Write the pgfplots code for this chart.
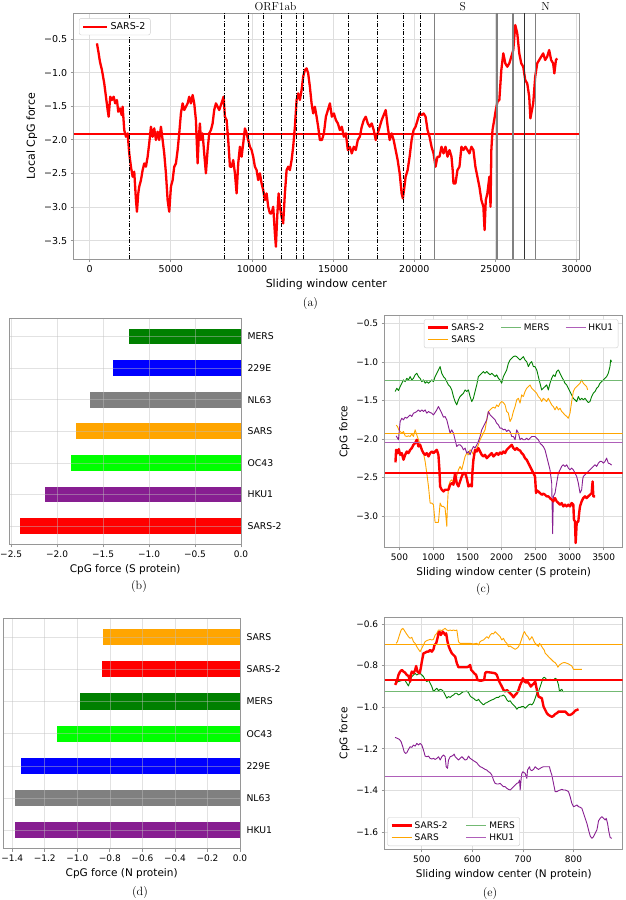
\documentclass[border=0pt]{standalone}
\usepackage{fontspec}
\usepackage{pgfplots}
\pgfplotsset{compat=1.18}
\newfontfamily\dejavu{DejaVu Sans}

\definecolor{mgreen}{RGB}{0,128,0}
\definecolor{mgreenl}{RGB}{115,185,115}
\definecolor{morange}{RGB}{255,165,0}
\definecolor{mpurple}{RGB}{135,30,145}
\definecolor{mpurplel}{RGB}{175,95,185}
\definecolor{mlime}{RGB}{0,255,0}
\definecolor{mgray}{RGB}{128,128,128}
\definecolor{framec}{RGB}{150,150,150}
\definecolor{gridc}{RGB}{222,222,222}

\pgfplotsset{
  mpl/.style={
    scale only axis, anchor=north west,
    axis line style={draw=framec, line width=0.8pt},
    grid=major, grid style={draw=gridc, line width=0.8pt},
    tick align=outside, tick pos=left, major tick length=3pt,
    tick style={draw=framec, line width=0.8pt},
    scaled ticks=false,
    tick label style={font=\dejavu\fontsize{9}{10}\selectfont},
    label style={font=\dejavu\fontsize{10.5}{12}\selectfont},
    legend cell align=left,
    legend style={font=\dejavu\fontsize{9}{10.5}\selectfont, draw=black!20,
      rounded corners=2pt, fill=white},
    legend image code/.code={\draw[##1] (0pt,0pt) -- (20pt,0pt);},
  },
  barax/.style={
    xbar, bar width=0.5, bar shift=0pt, axis on top,
    grid style={draw=black!25, line width=0.6pt, opacity=0.45},
    ytick={0,1,2,3,4,5,6}, yticklabel pos=right, ytick style={draw=none},
    ymin=-0.575, ymax=6.575,
    yticklabel style={font=\dejavu\fontsize{9.3}{10}\selectfont},
  },
  curve/.style={line join=round},
}

\begin{document}
\begin{tikzpicture}
\useasboundingbox (0,0) rectangle (625pt,-900pt);

% ---------- (a) whole genome ----------
\begin{axis}[mpl, at={(73.7pt,-13.3pt)}, width=505.3pt, height=245.7pt,
  xmin=-983, xmax=30145, ymin=-3.772, ymax=-0.117,
  xtick={0,5000,10000,15000,20000,25000,30000},
  xticklabels={0,5000,10000,15000,20000,25000,30000},
  ytick={-3.5,-3,-2.5,-2,-1.5,-1,-0.5},
  yticklabels={−3.5,−3.0,−2.5,−2.0,−1.5,−1.0,−0.5},
  tick label style={font=\dejavu\fontsize{9.5}{11}\selectfont},
  label style={font=\dejavu\fontsize{11}{13}\selectfont},
  xlabel={Sliding window center}, ylabel={Local CpG force},
  legend style={at={(0.0105,0.98)}, anchor=north west, font=\dejavu\fontsize{9.5}{11}\selectfont},
  legend image code/.code={\draw[#1] (0pt,0pt) -- (24pt,0pt);},
]
\addplot[forget plot, red, line width=2.3pt] coordinates {(-983,-1.91) (30145,-1.91)};
\addplot[curve, red, line width=2.3pt] coordinates {
(450,-0.564) (554,-0.713) (634,-0.837) (757,-0.961) (899,-1.160) (1004,-1.358) (1108,-1.556)
(1170,-1.655) (1269,-1.358) (1373,-1.407) (1478,-1.358) (1576,-1.457) (1681,-1.407) (1761,-1.581)
(1866,-1.531) (1971,-1.631) (2032,-1.507) (2131,-1.854) (2235,-1.953) (2340,-1.903) (2439,-2.201)
(2543,-2.399) (2648,-2.548) (2747,-2.474) (2852,-2.895) (2913,-3.069) (2993,-2.796) (3054,-2.697)
(3159,-2.598) (3264,-2.449) (3362,-2.350) (3467,-2.399) (3572,-2.250) (3670,-2.052) (3775,-1.804)
(3880,-1.953) (3978,-1.829) (4083,-2.002) (4187,-1.878) (4286,-2.002) (4391,-1.804) (4495,-2.002)
(4594,-2.201) (4699,-2.498) (4803,-2.895) (4902,-3.069) (5006,-2.697) (5111,-2.598) (5210,-2.399)
(5315,-2.350) (5419,-2.151) (5518,-1.903) (5622,-1.606) (5727,-1.457) (5826,-1.556) (5930,-1.507)
(6035,-1.457) (6134,-1.358) (6238,-1.457) (6343,-1.333) (6442,-1.457) (6546,-1.705) (6651,-2.350)
(6713,-2.002) (6792,-1.755) (6854,-2.002) (6958,-1.903) (7057,-2.201) (7162,-2.498) (7266,-2.151)
(7365,-1.903) (7470,-1.854) (7574,-1.755) (7673,-1.556) (7778,-1.457) (7882,-1.507) (7981,-1.556)
(8086,-1.482) (8190,-1.407) (8252,-1.358) (8332,-1.655) (8437,-1.705) (8536,-2.002) (8641,-2.399)
(8745,-2.399) (8844,-2.300) (8949,-2.498) (9053,-2.796) (9152,-2.350) (9257,-2.102) (9361,-2.250)
(9460,-2.052) (9565,-1.829) (9669,-1.903) (9768,-2.002) (9871,-2.102) (9976,-2.151) (10075,-2.250)
(10180,-2.399) (10284,-2.449) (10383,-2.598) (10487,-2.498) (10592,-2.647) (10691,-2.746) (10796,-2.895)
(10900,-2.796) (10999,-2.994) (11104,-3.093) (11208,-3.093) (11307,-2.994) (11411,-3.391) (11473,-3.589)
(11553,-3.143) (11639,-2.796) (11719,-2.994) (11824,-3.143) (11922,-3.242) (12027,-2.796) (12132,-2.449)
(12231,-2.399) (12335,-2.449) (12440,-2.300) (12538,-2.102) (12643,-1.804) (12748,-1.407) (12846,-1.308)
(12951,-1.407) (13055,-1.259) (13154,-1.060) (13258,-0.961) (13363,-0.936) (13462,-1.011) (13566,-1.209)
(13671,-1.457) (13770,-1.606) (13874,-1.507) (13979,-1.655) (14077,-1.804) (14182,-2.002) (14308,-2.002)
(14430,-1.903) (14553,-1.655) (14676,-1.556) (14799,-1.457) (14921,-1.655) (15044,-1.606) (15167,-1.705)
(15290,-1.755) (15413,-1.854) (15535,-1.804) (15658,-1.953) (15781,-1.903) (15904,-2.151) (16027,-2.102)
(16149,-2.201) (16272,-2.102) (16395,-2.151) (16518,-2.002) (16641,-1.953) (16763,-1.804) (16886,-1.705)
(17009,-1.655) (17132,-1.755) (17255,-1.804) (17377,-1.755) (17500,-1.854) (17623,-2.002) (17746,-1.903)
(17869,-1.804) (17991,-1.705) (18114,-1.631) (18237,-1.556) (18360,-1.804) (18483,-2.002) (18605,-1.903)
(18728,-2.002) (18851,-2.151) (18974,-2.300) (19097,-2.498) (19219,-2.796) (19293,-2.870) (19391,-2.697)
(19465,-2.548) (19588,-2.449) (19711,-2.250) (19833,-2.002) (19956,-1.854) (20079,-1.804) (20202,-1.705)
(20325,-1.606) (20447,-1.631) (20570,-1.606) (20693,-1.655) (20816,-1.854) (20939,-1.953) (21061,-2.102)
(21184,-2.201) (21307,-2.399) (21430,-2.250) (21553,-2.250) (21675,-2.102) (21798,-2.201) (21921,-2.102)
(22044,-2.250) (22167,-2.151) (22289,-2.250) (22363,-2.449) (22412,-2.647) (22535,-2.647) (22658,-2.449)
(22781,-2.399) (22903,-2.102) (23026,-2.151) (23149,-2.102) (23272,-2.151) (23395,-2.201) (23517,-2.102)
(23640,-2.151) (23763,-2.399) (23886,-2.548) (24009,-2.697) (24131,-2.895) (24254,-2.994) (24328,-3.341)
(24402,-2.895) (24500,-2.796) (24623,-2.548) (24696,-2.994) (24745,-2.151) (24815,-1.854) (24920,-1.705)
(25018,-1.557) (25123,-1.433) (25237,-1.407) (25360,-0.961) (25482,-0.713) (25605,-0.862) (25728,-0.912)
(25851,-0.862) (25974,-0.763) (26096,-0.664) (26219,-0.292) (26342,-0.416) (26465,-0.713) (26588,-0.862)
(26710,-0.912) (26833,-1.110) (26956,-1.160) (27079,-1.358) (27150,-1.680) (27324,-1.457) (27447,-1.060)
(27570,-0.862) (27693,-0.812) (27816,-0.763) (27938,-0.713) (28061,-0.812) (28184,-0.763) (28307,-0.664)
(28430,-0.812) (28552,-0.862) (28626,-1.011) (28724,-0.812) (28798,-0.788)
};
\addlegendentry{SARS-2}
\pgfplotsinvokeforeach{2445,8276,9778,10683,11804,12740,13159,15961,17734,19335,20357}{
  \addplot[forget plot, black, line width=0.7pt, dash pattern=on 4pt off 1.5pt on 1pt off 1.5pt]
    coordinates {(#1,-3.772) (#1,-0.117)};
}
\pgfplotsinvokeforeach{21262,25062,25130,26084,27482}{
  \addplot[forget plot, mgray, line width=1.2pt] coordinates {(#1,-3.772) (#1,-0.117)};
}
\addplot[forget plot, black!80, line width=0.9pt] coordinates {(26761,-3.772) (26761,-0.117)};
\end{axis}
\node[font=\fontsize{11.5}{13}\selectfont, anchor=base] at (275.5pt,-10.7pt) {ORF1ab};
\node[font=\fontsize{11.5}{13}\selectfont, anchor=base] at (462.7pt,-10.7pt) {S};
\node[font=\fontsize{11.5}{13}\selectfont, anchor=base] at (545.7pt,-10.7pt) {N};
\node[font=\fontsize{12}{14}\selectfont] at (310.5pt,-304pt) {(a)};

% ---------- (b) S protein bars ----------
\begin{axis}[mpl, barax, at={(9.3pt,-318.3pt)}, width=231.7pt, height=226pt,
  xmin=-2.52, xmax=0,
  xtick={-2.5,-2,-1.5,-1,-0.5,0}, xticklabels={−2.5,−2.0,−1.5,−1.0,−0.5,0.0},
  yticklabels={SARS-2,HKU1,OC43,SARS,NL63,229E,MERS},
  xlabel={CpG force (S protein)},
]
\addplot[fill=red, draw=none] coordinates {(-2.402,0)};
\addplot[fill=mpurple, draw=none] coordinates {(-2.130,1)};
\addplot[fill=mlime, draw=none] coordinates {(-1.848,2)};
\addplot[fill=morange, draw=none] coordinates {(-1.790,3)};
\addplot[fill=mgray, draw=none] coordinates {(-1.638,4)};
\addplot[fill=blue, draw=none] coordinates {(-1.391,5)};
\addplot[fill=mgreen, draw=none] coordinates {(-1.214,6)};
\end{axis}
\node[font=\fontsize{12}{14}\selectfont] at (139pt,-586.7pt) {(b)};

% ---------- (c) S protein sliding window ----------
\begin{axis}[mpl, at={(384.7pt,-315.7pt)}, width=238pt, height=231.6pt,
  xmin=283, xmax=3779, ymin=-3.405, ymax=-0.40,
  xtick={500,1000,1500,2000,2500,3000,3500},
  xticklabels={500,1000,1500,2000,2500,3000,3500},
  ytick={-3,-2.5,-2,-1.5,-1,-0.5}, yticklabels={−3.0,−2.5,−2.0,−1.5,−1.0,−0.5},
  xlabel={Sliding window center (S protein)}, ylabel={CpG force},
  legend columns=3,
  legend style={at={(0.9815,0.9845)}, anchor=north east,
    /tikz/every even column/.append style={column sep=14pt}},
]
\addplot[forget plot, curve, mgreen, line width=0.9pt] coordinates {
(436,-1.384) (461,-1.341) (485,-1.371) (510,-1.320) (534,-1.276) (559,-1.233) (583,-1.255) (608,-1.212)
(632,-1.233) (657,-1.190) (681,-1.233) (705,-1.212) (730,-1.168) (754,-1.147) (779,-1.190) (803,-1.212)
(828,-1.255) (852,-1.233) (877,-1.276) (901,-1.255) (926,-1.276) (950,-1.255) (975,-1.233) (999,-1.255)
(1023,-1.190) (1048,-1.147) (1072,-1.104) (1097,-1.060) (1121,-1.147) (1146,-1.190) (1170,-1.212)
(1195,-1.255) (1219,-1.298) (1244,-1.320) (1268,-1.363) (1293,-1.449) (1317,-1.514) (1341,-1.557)
(1366,-1.492) (1390,-1.449) (1415,-1.427) (1439,-1.406) (1464,-1.363) (1488,-1.384) (1513,-1.363)
(1537,-1.449) (1562,-1.514) (1586,-1.471) (1610,-1.384) (1635,-1.298) (1659,-1.190) (1684,-1.168)
(1708,-1.147) (1733,-1.125) (1757,-1.147) (1782,-1.125) (1806,-1.147) (1831,-1.168) (1855,-1.147)
(1880,-1.168) (1904,-1.190) (1928,-1.168) (1953,-1.212) (1977,-1.233) (2002,-1.276) (2026,-1.190)
(2051,-1.147) (2075,-1.104) (2100,-1.017) (2124,-0.974) (2149,-0.953) (2173,-0.931) (2198,-0.922)
(2222,-0.931) (2247,-0.953) (2271,-0.974) (2295,-0.953) (2320,-0.931) (2344,-0.974) (2369,-0.996)
(2393,-1.060) (2418,-1.017) (2442,-0.996) (2467,-1.060) (2491,-1.060) (2516,-1.104) (2540,-1.190)
(2564,-1.276) (2589,-1.363) (2613,-1.341) (2638,-1.320) (2662,-1.298) (2687,-1.363) (2711,-1.276)
(2736,-1.212) (2760,-1.168) (2785,-1.190) (2809,-1.125) (2834,-1.104) (2858,-1.147) (2882,-1.190)
(2907,-1.233) (2931,-1.276) (2956,-1.298) (2980,-1.341) (3005,-1.384) (3029,-1.427) (3054,-1.471)
(3078,-1.492) (3103,-1.514) (3127,-1.449) (3152,-1.492) (3176,-1.471) (3200,-1.492) (3225,-1.471)
(3249,-1.501) (3274,-1.527) (3298,-1.514) (3323,-1.449) (3347,-1.406) (3372,-1.384) (3396,-1.341)
(3421,-1.320) (3445,-1.276) (3469,-1.255) (3494,-1.233) (3518,-1.212) (3543,-1.190) (3567,-1.147)
(3592,-1.060) (3602,-0.974) (3616,-0.996)
};
\addplot[forget plot, curve, morange, line width=0.9pt] coordinates {
(451,-1.820) (471,-1.838) (490,-1.881) (510,-1.902) (534,-1.924) (559,-1.902) (583,-1.959) (608,-1.967)
(632,-1.959) (657,-1.967) (681,-1.933) (705,-1.967) (730,-1.881) (754,-1.946) (779,-2.010) (803,-2.075)
(828,-2.118) (852,-2.183) (877,-2.291) (901,-2.442) (926,-2.615) (950,-2.831) (975,-2.831) (999,-2.852)
(1023,-3.081) (1048,-3.081) (1072,-3.081) (1097,-2.831) (1121,-2.874) (1146,-2.874) (1170,-2.896)
(1195,-3.133) (1204,-2.874) (1219,-2.615) (1244,-2.550) (1268,-2.529) (1293,-2.572) (1317,-2.485)
(1341,-2.485) (1366,-2.399) (1390,-2.356) (1415,-2.399) (1439,-2.313) (1464,-2.226) (1488,-2.183)
(1513,-2.205) (1537,-2.140) (1562,-2.162) (1586,-2.205) (1610,-2.162) (1635,-2.118) (1659,-2.075)
(1684,-2.010) (1708,-1.967) (1733,-1.924) (1757,-1.881) (1782,-1.751) (1806,-1.643) (1831,-1.622)
(1855,-1.600) (1880,-1.587) (1904,-1.600) (1928,-1.557) (1953,-1.579) (1977,-1.535) (2002,-1.514)
(2026,-1.527) (2051,-1.557) (2075,-1.643) (2100,-1.665) (2124,-1.773) (2149,-1.730) (2173,-1.643)
(2198,-1.579) (2222,-1.492) (2247,-1.471) (2271,-1.535) (2295,-1.427) (2320,-1.449) (2344,-1.384)
(2369,-1.341) (2393,-1.320) (2418,-1.298) (2442,-1.341) (2467,-1.363) (2491,-1.384) (2516,-1.406)
(2540,-1.449) (2564,-1.471) (2589,-1.514) (2613,-1.471) (2638,-1.492) (2662,-1.514) (2687,-1.471)
(2711,-1.514) (2736,-1.557) (2760,-1.579) (2785,-1.622) (2809,-1.579) (2834,-1.622) (2858,-1.600)
(2882,-1.643) (2907,-1.665) (2931,-1.687) (2956,-1.708) (2980,-1.730) (3005,-1.665) (3029,-1.514)
(3054,-1.384) (3078,-1.341) (3103,-1.320) (3127,-1.298) (3152,-1.276) (3176,-1.233) (3200,-1.276)
(3225,-1.298) (3249,-1.320) (3264,-1.363)
};
\addplot[forget plot, curve, mpurple, line width=0.9pt] coordinates {
(451,-1.959) (471,-1.989) (485,-2.010) (510,-1.773) (534,-1.730) (559,-1.751) (583,-1.717) (608,-1.730)
(632,-1.708) (657,-1.687) (681,-1.708) (705,-1.665) (730,-1.656) (754,-1.643) (779,-1.622) (803,-1.643)
(828,-1.622) (852,-1.643) (877,-1.622) (901,-1.665) (926,-1.643) (950,-1.656) (975,-1.665) (999,-1.687)
(1023,-1.656) (1048,-1.622) (1072,-1.579) (1097,-1.622) (1121,-1.665) (1146,-1.717) (1170,-1.708)
(1195,-1.751) (1219,-1.838) (1244,-1.924) (1268,-1.881) (1293,-1.924) (1317,-2.010) (1341,-2.097)
(1366,-2.075) (1390,-2.075) (1415,-2.097) (1439,-2.140) (1464,-2.118) (1488,-2.183) (1513,-2.162)
(1537,-2.205) (1562,-2.140) (1586,-2.097) (1610,-2.118) (1635,-2.075) (1659,-2.032) (1684,-1.967)
(1708,-1.881) (1733,-1.838) (1757,-1.795) (1782,-1.751) (1806,-1.643) (1831,-1.687) (1855,-1.708)
(1880,-1.730) (1904,-1.751) (1928,-1.795) (1953,-1.816) (1977,-1.859) (2002,-1.859) (2026,-1.881)
(2051,-1.872) (2075,-1.902) (2100,-1.881) (2124,-1.902) (2149,-1.967) (2173,-1.967) (2198,-2.010)
(2222,-1.881) (2247,-1.924) (2271,-2.010) (2295,-1.989) (2320,-2.010) (2344,-2.010) (2369,-1.989)
(2393,-2.010) (2418,-1.989) (2442,-1.967) (2467,-1.967) (2491,-1.967) (2516,-1.989) (2540,-2.010)
(2564,-2.054) (2589,-2.075) (2613,-2.097) (2638,-2.140) (2662,-2.226) (2687,-2.313) (2711,-2.399)
(2736,-2.572) (2750,-3.228) (2760,-2.744) (2785,-2.701) (2809,-2.572) (2834,-2.442) (2858,-2.399)
(2882,-2.356) (2907,-2.334) (2931,-2.356) (2956,-2.334) (2980,-2.377) (3005,-2.399) (3029,-2.377)
(3054,-2.399) (3078,-2.442) (3103,-2.485) (3127,-2.572) (3152,-2.701) (3176,-2.658) (3191,-2.529)
(3200,-2.485) (3225,-2.464) (3249,-2.442) (3274,-2.421) (3298,-2.399) (3323,-2.377) (3347,-2.356)
(3372,-2.334) (3396,-2.356) (3421,-2.313) (3445,-2.291) (3469,-2.291) (3494,-2.313) (3518,-2.291)
(3543,-2.248) (3567,-2.313) (3592,-2.321) (3616,-2.339)
};
\addplot[forget plot, curve, red, line width=2.4pt] coordinates {
(441,-2.304) (451,-2.140) (471,-2.183) (490,-2.131) (510,-2.205) (534,-2.183) (559,-2.269) (583,-2.205)
(608,-2.162) (632,-2.183) (657,-2.140) (681,-2.118) (705,-2.075) (730,-2.054) (754,-2.010) (779,-2.097)
(803,-2.075) (828,-2.140) (852,-2.183) (877,-2.205) (901,-2.183) (926,-2.226) (950,-2.183) (975,-2.162)
(999,-2.183) (1023,-2.162) (1048,-2.140) (1072,-2.205) (1087,-2.399) (1097,-2.615) (1121,-2.658)
(1146,-2.680) (1170,-2.658) (1195,-2.658) (1219,-2.658) (1244,-2.593) (1268,-2.572) (1293,-2.593)
(1317,-2.442) (1341,-2.572) (1366,-2.615) (1390,-2.550) (1415,-2.485) (1439,-2.442) (1464,-2.442)
(1488,-2.507) (1513,-2.615) (1537,-2.593) (1562,-2.615) (1572,-2.421) (1586,-2.269) (1610,-2.140)
(1635,-2.162) (1659,-2.118) (1684,-2.162) (1708,-2.205) (1733,-2.226) (1757,-2.205) (1782,-2.248)
(1806,-2.226) (1831,-2.205) (1855,-2.183) (1880,-2.226) (1904,-2.205) (1928,-2.183) (1953,-2.205)
(1977,-2.175) (2002,-2.192) (2026,-2.162) (2051,-2.183) (2075,-2.140) (2100,-2.118) (2124,-2.097)
(2149,-2.075) (2173,-2.118) (2198,-2.140) (2222,-2.118) (2247,-2.140) (2271,-2.149) (2295,-2.183)
(2320,-2.205) (2344,-2.248) (2369,-2.269) (2393,-2.313) (2418,-2.356) (2442,-2.399) (2467,-2.442)
(2491,-2.485) (2506,-2.701) (2516,-2.667) (2540,-2.680) (2564,-2.701) (2589,-2.723) (2613,-2.710)
(2638,-2.723) (2662,-2.744) (2687,-2.744) (2711,-2.766) (2736,-2.788) (2760,-2.809) (2785,-2.766)
(2809,-2.809) (2834,-2.831) (2858,-2.852) (2882,-2.831) (2907,-2.874) (2931,-2.852) (2956,-2.874)
(2980,-2.852) (3005,-2.874) (3029,-2.831) (3054,-2.852) (3063,-3.047) (3078,-3.068) (3088,-3.349)
(3103,-3.090) (3127,-3.068) (3142,-2.939) (3152,-2.874) (3176,-2.809) (3200,-2.766) (3225,-2.744)
(3249,-2.766) (3274,-2.744) (3298,-2.723) (3323,-2.701) (3337,-2.550) (3347,-2.744) (3372,-2.744)
};
% mean lines, which also give the legend handles
\addplot[red, line width=2.2pt] coordinates {(283,-2.443) (3779,-2.443)};
\addlegendentry{SARS-2}
\addplot[mgreenl, line width=1.6pt] coordinates {(283,-1.243) (3779,-1.243)};
\addlegendentry{MERS}
\addplot[mpurplel, line width=1.1pt] coordinates {(283,-2.047) (3779,-2.047)};
\addlegendentry{HKU1}
\addplot[morange, line width=0.9pt] coordinates {(283,-1.93) (3779,-1.93)};
\addlegendentry{SARS}
\end{axis}
\node[font=\fontsize{12}{14}\selectfont] at (483.3pt,-589.3pt) {(c)};

% ---------- (d) N protein bars ----------
\begin{axis}[mpl, barax, at={(3.3pt,-618.7pt)}, width=236.7pt, height=230pt,
  xmin=-1.455, xmax=0,
  xtick={-1.4,-1.2,-1,-0.8,-0.6,-0.4,-0.2,0},
  xticklabels={−1.4,−1.2,−1.0,−0.8,−0.6,−0.4,−0.2,0.0},
  yticklabels={HKU1,NL63,229E,OC43,MERS,SARS-2,SARS},
  xlabel={CpG force (N protein)},
]
\addplot[fill=mpurple, draw=none] coordinates {(-1.383,0)};
\addplot[fill=mgray, draw=none] coordinates {(-1.383,1)};
\addplot[fill=blue, draw=none] coordinates {(-1.346,2)};
\addplot[fill=mlime, draw=none] coordinates {(-1.123,3)};
\addplot[fill=mgreen, draw=none] coordinates {(-0.982,4)};
\addplot[fill=red, draw=none] coordinates {(-0.846,5)};
\addplot[fill=morange, draw=none] coordinates {(-0.842,6)};
\end{axis}
\node[font=\fontsize{12}{14}\selectfont] at (140pt,-892pt) {(d)};

% ---------- (e) N protein sliding window ----------
\begin{axis}[mpl, at={(384.7pt,-617.3pt)}, width=238pt, height=232pt,
  xmin=426.6, xmax=897.4, ymin=-1.683, ymax=-0.568,
  xtick={500,600,700,800}, xticklabels={500,600,700,800},
  ytick={-1.6,-1.4,-1.2,-1,-0.8,-0.6}, yticklabels={−1.6,−1.4,−1.2,−1.0,−0.8,−0.6},
  xlabel={Sliding window center (N protein)}, ylabel={CpG force},
  legend columns=2,
  legend style={at={(0.011,0.014)}, anchor=south west,
    /tikz/every even column/.append style={column sep=16pt}},
]
\addplot[forget plot, curve, morange, line width=0.9pt] coordinates {
(449.2,-0.693) (451.8,-0.685) (455.8,-0.653) (459.1,-0.629) (462.4,-0.621) (465.0,-0.629) (469.0,-0.645)
(473.6,-0.661) (476.9,-0.669) (480.2,-0.664) (483.5,-0.685) (486.8,-0.693) (490.1,-0.709) (493.4,-0.722)
(496.7,-0.733) (500,-0.717) (503.3,-0.701) (506.6,-0.685) (509.9,-0.680) (513.2,-0.677) (516.5,-0.674)
(519.8,-0.677) (523.1,-0.674) (526.4,-0.653) (529.7,-0.645) (533.0,-0.629) (536.3,-0.629) (539.6,-0.632)
(542.9,-0.626) (546.2,-0.621) (549.5,-0.629) (552.8,-0.632) (556.1,-0.629) (559.4,-0.632) (562.7,-0.629)
(566.0,-0.632) (569.3,-0.629) (572.6,-0.685) (575.9,-0.693) (582.5,-0.693) (589.0,-0.693) (595.6,-0.693)
(602.2,-0.696) (608.8,-0.693) (612.1,-0.701) (615.4,-0.685) (618.7,-0.680) (622.0,-0.677) (625.3,-0.669)
(628.6,-0.661) (631.9,-0.669) (635.2,-0.653) (638.5,-0.645) (641.8,-0.648) (645.1,-0.637) (648.4,-0.645)
(651.7,-0.653) (655.0,-0.661) (658.3,-0.677) (661.6,-0.669) (664.9,-0.685) (668.2,-0.693) (671.5,-0.709)
(674.8,-0.706) (678.1,-0.712) (681.4,-0.717) (684.7,-0.722) (688.0,-0.717) (691.3,-0.709) (694.6,-0.693)
(697.9,-0.669) (701.2,-0.645) (703.2,-0.637) (706.5,-0.653) (709.8,-0.661) (713.1,-0.677) (715.7,-0.669)
(717.7,-0.661) (719.6,-0.669) (722.3,-0.685) (724.3,-0.693) (727.6,-0.701) (730.9,-0.709) (732.8,-0.693)
(735.5,-0.701) (739.4,-0.717) (742.1,-0.725) (744.1,-0.741) (747.4,-0.749) (750.6,-0.757) (753.9,-0.765)
(757.2,-0.773) (760.5,-0.781) (763.8,-0.786) (767.1,-0.797) (769.1,-0.808) (772.4,-0.797) (777.0,-0.789)
(780.3,-0.786) (783.6,-0.786) (786.9,-0.789) (790.2,-0.792) (793.5,-0.797) (796.8,-0.802) (800.1,-0.818)
(806.7,-0.818) (813.3,-0.818) (816.6,-0.818)
};
\addplot[forget plot, curve, mgreen, line width=0.9pt] coordinates {
(447.2,-0.877) (450.5,-0.872) (453.8,-0.877) (457.1,-0.874) (460.4,-0.872) (463.7,-0.869) (467.0,-0.872)
(470.3,-0.885) (473.6,-0.898) (476.9,-0.872) (480.2,-0.853) (483.5,-0.845) (486.8,-0.837) (490.1,-0.845)
(493.4,-0.840) (496.7,-0.837) (500,-0.845) (503.3,-0.853) (506.6,-0.869) (509.9,-0.877) (513.2,-0.869)
(516.5,-0.885) (519.8,-0.901) (523.1,-0.925) (526.4,-0.917) (529.7,-0.909) (533.0,-0.921) (536.3,-0.914)
(539.6,-0.917) (542.9,-0.925) (546.2,-0.941) (549.5,-0.957) (552.8,-0.949) (556.1,-0.953) (559.4,-0.946)
(562.7,-0.941) (566.0,-0.933) (569.3,-0.933) (572.6,-0.941) (575.9,-0.937) (579.2,-0.930) (582.5,-0.925)
(585.7,-0.925) (589.0,-0.922) (592.3,-0.930) (595.6,-0.946) (598.9,-0.953) (602.2,-0.957) (605.5,-0.965)
(608.8,-0.969) (612.1,-0.962) (615.4,-0.973) (618.7,-0.981) (622.0,-0.989) (625.3,-0.981) (628.6,-0.978)
(631.9,-0.973) (635.2,-0.969) (638.5,-0.965) (641.8,-0.962) (645.1,-0.957) (648.4,-0.953) (651.7,-0.953)
(655.0,-0.946) (658.3,-0.946) (661.6,-0.941) (664.9,-0.949) (668.2,-0.965) (671.5,-0.973) (674.8,-0.969)
(678.1,-0.981) (681.4,-0.989) (684.7,-0.997) (688.0,-1.010) (691.3,-1.001) (694.6,-1.001) (697.9,-0.997)
(701.2,-0.997) (704.5,-1.005) (707.8,-0.997) (711.1,-0.989) (714.4,-0.985) (717.7,-0.989) (721.0,-0.978)
(724.3,-0.957) (727.6,-0.933) (730.9,-0.925) (734.2,-0.901) (737.5,-0.877) (739.4,-0.861) (742.1,-0.856)
(744.7,-0.861) (747.4,-0.869) (750.6,-0.869) (753.9,-0.866) (757.2,-0.869) (760.5,-0.869) (763.8,-0.861)
(767.1,-0.866) (770.4,-0.893) (772.4,-0.925) (775.0,-0.917) (777.0,-0.914) (779.0,-0.925) (781.6,-0.925)
};
\addplot[forget plot, curve, mpurple, line width=0.9pt] coordinates {
(447.2,-1.145) (451.8,-1.150) (455.8,-1.155) (459.1,-1.166) (462.4,-1.190) (465.0,-1.214) (467.7,-1.222)
(470.3,-1.219) (473.6,-1.203) (476.9,-1.190) (480.2,-1.193) (483.5,-1.182) (486.8,-1.187) (490.1,-1.174)
(493.4,-1.182) (496.7,-1.174) (500,-1.182) (503.3,-1.206) (506.6,-1.235) (509.9,-1.238) (513.2,-1.235)
(516.5,-1.246) (519.8,-1.249) (523.1,-1.246) (526.4,-1.251) (529.7,-1.246) (533.0,-1.238) (536.3,-1.254)
(539.6,-1.238) (542.9,-1.230) (546.2,-1.238) (548.2,-1.286) (550.8,-1.294) (552.8,-1.254) (556.1,-1.238)
(559.4,-1.235) (562.7,-1.230) (564.0,-1.225) (566.0,-1.238) (569.3,-1.246) (572.6,-1.254) (575.9,-1.246)
(579.2,-1.238) (582.5,-1.246) (585.7,-1.254) (589.0,-1.251) (592.3,-1.235) (595.6,-1.246) (598.9,-1.251)
(602.2,-1.257) (605.5,-1.262) (608.8,-1.267) (612.1,-1.278) (615.4,-1.286) (618.7,-1.289) (622.0,-1.294)
(625.3,-1.299) (628.6,-1.302) (631.9,-1.310) (635.2,-1.315) (638.5,-1.326) (641.8,-1.350) (645.1,-1.366)
(648.4,-1.369) (651.7,-1.369) (655.0,-1.366) (658.3,-1.374) (661.6,-1.382) (664.9,-1.382) (668.2,-1.390)
(671.5,-1.395) (674.8,-1.398) (678.1,-1.390) (681.4,-1.382) (684.7,-1.374) (688.0,-1.366) (691.3,-1.363)
(693.3,-1.350) (694.6,-1.398) (696.6,-1.342) (697.9,-1.318) (699.9,-1.310) (702.5,-1.315) (704.5,-1.318)
(706.5,-1.334) (707.8,-1.342) (709.1,-1.302) (711.1,-1.294) (713.1,-1.286) (714.4,-1.299) (715.7,-1.302)
(717.7,-1.305) (721.0,-1.299) (724.3,-1.286) (727.6,-1.294) (730.9,-1.299) (734.2,-1.294) (737.5,-1.289)
(740.8,-1.286) (747.4,-1.286) (752.6,-1.286) (754.0,-1.302) (757.2,-1.326) (760.5,-1.366) (763.8,-1.406)
(767.1,-1.406) (770.4,-1.401) (773.7,-1.398) (777.0,-1.395) (780.3,-1.398) (783.6,-1.398) (786.9,-1.401)
(790.2,-1.406) (793.5,-1.430) (796.8,-1.462) (800.1,-1.478) (803.4,-1.475) (806.7,-1.470) (810.0,-1.478)
(813.3,-1.481) (816.6,-1.486) (819.9,-1.510) (823.2,-1.534) (826.5,-1.558) (829.8,-1.590) (833.1,-1.619)
(836.4,-1.630) (839.7,-1.622) (843.0,-1.606) (846.3,-1.590) (847.6,-1.574) (849.6,-1.546) (852.9,-1.534)
(856.2,-1.526) (859.5,-1.534) (862.8,-1.542) (864.8,-1.534) (867.4,-1.558) (870.0,-1.598) (872.7,-1.627)
(876.0,-1.630)
};
\addplot[forget plot, curve, red, line width=2.4pt] coordinates {
(447.2,-0.893) (450.5,-0.877) (453.8,-0.845) (457.1,-0.829) (460.4,-0.821) (463.7,-0.829) (467.0,-0.834)
(470.3,-0.845) (473.6,-0.850) (476.9,-0.877) (478.2,-0.845) (480.2,-0.829) (483.5,-0.837) (486.8,-0.821)
(488.8,-0.802) (491.4,-0.829) (495.4,-0.837) (498.0,-0.813) (500,-0.781) (503.3,-0.741) (506.6,-0.738)
(509.9,-0.733) (513.2,-0.733) (516.5,-0.725) (519.8,-0.733) (523.1,-0.722) (525.1,-0.701) (528.4,-0.693)
(531.0,-0.669) (533.0,-0.645) (535.0,-0.637) (537.6,-0.653) (539.6,-0.645) (541.6,-0.637) (544.2,-0.645)
(546.2,-0.653) (548.2,-0.645) (550.8,-0.685) (553.4,-0.709) (556.1,-0.725) (559.4,-0.741) (562.7,-0.749)
(566.0,-0.757) (569.3,-0.789) (572.6,-0.808) (575.9,-0.808) (582.5,-0.808) (589.0,-0.808) (592.3,-0.805)
(595.6,-0.797) (597.6,-0.821) (600.9,-0.829) (603.6,-0.837) (607.5,-0.845) (610.2,-0.869) (614.1,-0.872)
(618.7,-0.872) (623.3,-0.869) (625.3,-0.837) (627.3,-0.831) (631.9,-0.832) (638.5,-0.834) (645.1,-0.837)
(648.4,-0.845) (651.7,-0.869) (655.0,-0.885) (658.3,-0.901) (661.6,-0.917) (664.9,-0.925) (668.2,-0.917)
(671.5,-0.925) (674.8,-0.933) (678.1,-0.941) (681.4,-0.953) (684.7,-0.941) (688.0,-0.933) (691.3,-0.917)
(694.6,-0.893) (697.9,-0.877) (699.9,-0.861) (703.2,-0.877) (706.5,-0.882) (709.1,-0.877) (712.4,-0.888)
(715.7,-0.901) (718.3,-0.893) (721.0,-0.888) (724.3,-0.877) (727.6,-0.917) (730.9,-0.949) (734.2,-0.953)
(737.5,-0.957) (740.8,-0.997) (744.1,-1.013) (747.4,-1.029) (750.6,-1.037) (753.9,-1.042) (757.2,-1.046)
(760.5,-1.042) (763.8,-1.033) (767.1,-1.029) (770.4,-1.021) (773.7,-1.021) (777.0,-1.021) (780.3,-1.021)
(783.6,-1.021) (786.9,-1.029) (790.2,-1.037) (793.5,-1.037) (796.8,-1.033) (800.1,-1.026) (803.4,-1.017)
(806.7,-1.013) (810.0,-1.010)
};
% mean lines, which also give the legend handles
\addplot[red, line width=2.2pt] coordinates {(426.6,-0.871) (897.4,-0.871)};
\addlegendentry{SARS-2}
\addplot[mgreenl, line width=1.6pt] coordinates {(426.6,-0.925) (897.4,-0.925)};
\addlegendentry{MERS}
\addplot[morange, line width=1pt] coordinates {(426.6,-0.699) (897.4,-0.699)};
\addlegendentry{SARS}
\addplot[mpurplel, line width=1.1pt] coordinates {(426.6,-1.332) (897.4,-1.332)};
\addlegendentry{HKU1}
\end{axis}
\node[font=\fontsize{12}{14}\selectfont] at (490pt,-893pt) {(e)};
\end{tikzpicture}
\end{document}
